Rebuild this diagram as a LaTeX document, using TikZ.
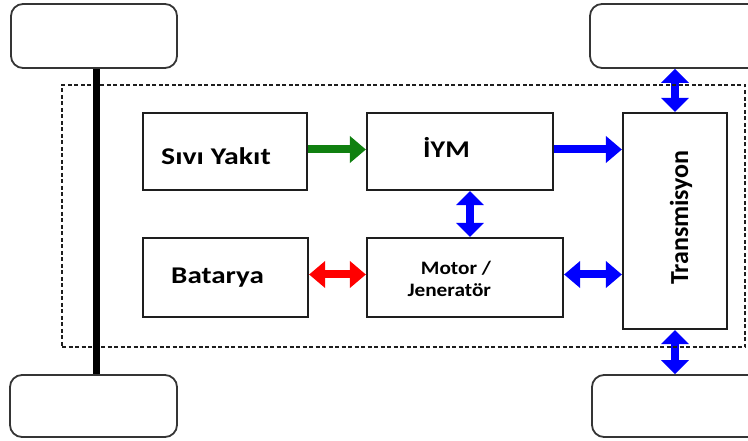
\documentclass[tikz,border=0pt]{standalone}
\usepackage{fontspec}
\setmainfont{Carlito}
\usetikzlibrary{arrows.meta,calc}
\definecolor{agreen}{RGB}{16,128,16}
\definecolor{ablue}{RGB}{0,0,255}
\definecolor{ared}{RGB}{255,0,0}
\definecolor{edge}{RGB}{30,30,30}
\newcommand\offtext[3]{\raisebox{#2}[0pt][0pt]{\makebox[0pt][c]{\hspace*{#1}\hspace*{#1}#3}}}
\tikzset{
  wheel/.style={draw=edge!90, line width=1.8pt, rounded corners=12pt, fill=white, inner sep=0pt},
  blk/.style={draw=edge, line width=2.2pt, fill=white, inner sep=0pt, font=\bfseries\fontsize{24}{28}\selectfont},
  frame/.style={draw=edge, line width=1.8pt, dash pattern=on 4pt off 2.5pt, inner sep=0pt},
  axle/.style={line width=7pt, black},
  flow/.style={line width=8pt, -{Triangle[length=16pt,width=26pt]}},
  flow2/.style={line width=8pt, {Triangle[length=16pt,width=26pt]}-{Triangle[length=16pt,width=26pt]}},
  vflow2/.style={line width=8pt, {Triangle[length=14pt,width=27pt]}-{Triangle[length=14pt,width=27pt]}},
}
\begin{document}
\begin{tikzpicture}[x=1pt,y=-1pt]
\useasboundingbox (0,0) rectangle (748,441);
\clip (0,0) rectangle (748,441);
% wheels
\node[wheel, minimum width=166pt, minimum height=64pt] (wtl) at (94,36) {};
\node[wheel, minimum width=176pt, minimum height=64pt] (wtr) at (678,36) {};
\node[wheel, minimum width=167pt, minimum height=62pt] (wbl) at (93.5,406) {};
\node[wheel, minimum width=174pt, minimum height=62pt] (wbr) at (679,406) {};
% blocks
\node[blk, minimum width=164pt, minimum height=77pt] (sivi) at (225,151.5) {\offtext{-9pt}{-13.5pt}{\scalebox{1.24}[1]{Sıvı Yakıt}}};
\node[blk, minimum width=186pt, minimum height=77pt] (iym) at (460,151.5) {\offtext{-13.5pt}{-6.5pt}{\scalebox{1.17}[1]{İYM}}};
\node[blk, minimum width=165pt, minimum height=79pt] (bat) at (225.5,277.5) {\offtext{-8pt}{-6pt}{\scalebox{1.21}[1]{Batarya}}};
\node[blk, minimum width=196pt, minimum height=79pt, font=\bfseries\fontsize{19}{22}\selectfont] (mot) at (465,277.5)
  {\offtext{-9pt}{-8pt}{\scalebox{1.12}[1]{\begin{tabular}{@{}c@{}}Motor /\\\hspace*{-12pt}Jeneratör\end{tabular}}}};
\node[blk, minimum width=104pt, minimum height=216pt, font=\bfseries\fontsize{26}{30}\selectfont] (trans) at (675,221)
  {\offtext{6pt}{-64pt}{\rotatebox{90}{Transmisyon}}};
% connector end points
\coordinate (a1) at ($(iym.east)+(0,-2)$);
\coordinate (a2) at ($(bat.east)+(0,-3)$);
\coordinate (a3) at ($(mot.east)+(0,-3)$);
\coordinate (a4) at ($(mot.north)+(5,0)$);
% arrows
\draw[flow, agreen] ($(sivi.east)+(0,-2)$) -- ($(iym.west)+(0,-2)$);
\draw[flow, ablue] (a1) -- (a1 -| trans.west);
\draw[flow2, ared] (a2) -- (a2 -| mot.west);
\draw[flow2, ablue] (a3) -- (a3 -| trans.west);
\draw[vflow2, ablue] (a4) -- (a4 |- iym.south);
\draw[vflow2, ablue] (trans.north) -- (trans.north |- wtr.south);
\draw[vflow2, ablue] (trans.south) -- (trans.south |- wbr.north);
% frame
\node[frame, minimum width=683pt, minimum height=262pt] (frm) at (403.5,216) {};
% axle
\draw[axle] ($(wtl.south)+(2,0)$) -- ($(wbl.north)+(2.5,0)$);
\end{tikzpicture}
\end{document}
